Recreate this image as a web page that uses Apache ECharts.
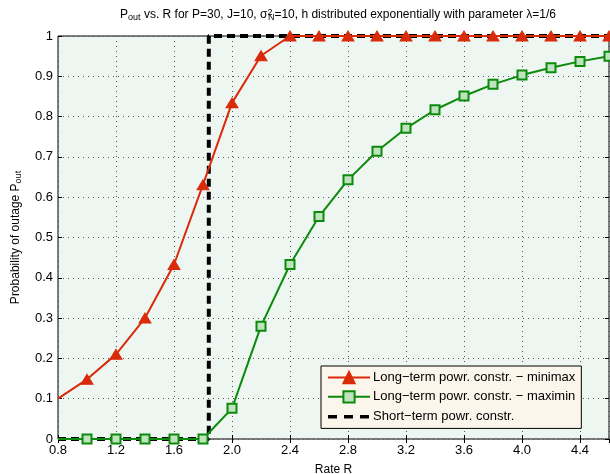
<!DOCTYPE html>
<html><head><meta charset="utf-8">
<script src="https://cdn.jsdelivr.net/npm/echarts@6/dist/echarts.min.js"></script>
<style>html,body{margin:0;padding:0;background:#fff}#c{width:610px;height:474px}</style>
</head><body><div id="c"></div>
<script>
const rates = [0.8, 1.0, 1.2, 1.4, 1.6, 1.8, 2.0, 2.2, 2.4, 2.6, 2.8, 3.0, 3.2, 3.4, 3.6, 3.8, 4.0, 4.2, 4.4, 4.6];
const minimax = [0.10, 0.148, 0.21, 0.30, 0.433, 0.631, 0.834, 0.951, 1, 1, 1, 1, 1, 1, 1, 1, 1, 1, 1, 1];
const maximin = [0, 0, 0, 0, 0, 0, 0.076, 0.28, 0.433, 0.552, 0.643, 0.714, 0.771, 0.817, 0.851, 0.880, 0.903, 0.921, 0.937, 0.950];
const shortX = [0.8, 1.84, 1.84, 4.6];
const shortY = [0, 0, 1, 1];
const seriesNames = ['Long\u2212term powr. constr. \u2212 minimax', 'Long\u2212term powr. constr. \u2212 maximin', 'Short\u2212term powr. constr.'];

const FONT = "'Liberation Sans', Arial, sans-serif";
const RED = '#d92b0a', GREEN = '#0c8a0c';

function pts(xs, ys, hideFirst) {
  return xs.map((x, i) => (hideFirst && i === 0) ? { value: [x, ys[i]], symbol: 'none' } : [x, ys[i]]);
}

const chart = echarts.init(document.getElementById('c'), null, { renderer: 'canvas' });
const axisCommon = {
  axisLine: { show: false },
  axisTick: { show: true, inside: true, length: 4, lineStyle: { color: '#000', width: 1 } },
};
const base = { fontFamily: FONT, color: '#000', fontWeight: 'normal', align: 'left' };
const dashIcon = 'path://M0,0h0.01v0.01h-0.01z M0,14h0.01v0.01h-0.01z M0,5.5h9v3.5h-9z M16,5.5h9v3.5h-9z M32,5.5h9v3.5h-9z M42,0h0.01v0.01h-0.01z';
chart.setOption({
  animation: false,
  backgroundColor: '#fff',
  textStyle: { fontFamily: FONT },
  title: {
    left: 333, top: 3, textAlign: 'center',
    text: '{n|P}{sub|out}{n| vs. R for P=30, J=10, \u03c3}{sup|2}{sub|N}{n|=10, h distributed exponentially with parameter \u03bb=1/6}',
    textStyle: {
      fontWeight: 'normal',
      rich: {
        n: Object.assign({ fontSize: 12 }, base),
        sub: Object.assign({ fontSize: 9, verticalAlign: 'bottom', padding: [6, 0, 0, 0], lineHeight: 14 }, base),
        sup: Object.assign({ fontSize: 9, verticalAlign: 'top', padding: [0, 0, 6, 0], lineHeight: 14, width: 0.5 }, base)
      }
    }
  },
  grid: { left: 58, top: 36, right: 1, bottom: 35, show: true, backgroundColor: '#eef6f1', borderColor: '#000', borderWidth: 1, containLabel: false, outerBoundsMode: 'none' },
  legend: {
    orient: 'vertical', left: 321, top: 366,
    itemWidth: 42, itemHeight: 14, itemGap: 6,
    padding: [5, 6, 5, 6],
    backgroundColor: '#fcf5ec', borderColor: '#000', borderWidth: 1,
    textStyle: { fontFamily: FONT, fontSize: 13, color: '#000', padding: [0, 0, 0, -2] },
    data: [seriesNames[0], seriesNames[1], { name: seriesNames[2], icon: dashIcon, itemStyle: { color: '#000' } }]
  },
  xAxis: [
    Object.assign({
      type: 'value', min: 0.8, max: 4.6, interval: 0.4,
      name: 'Rate R', nameLocation: 'middle', nameGap: 25,
      nameTextStyle: { fontFamily: FONT, fontSize: 12, color: '#000' },
      axisLabel: { fontFamily: FONT, fontSize: 13, color: '#000', margin: 5, showMaxLabel: false, formatter: v => v.toFixed(1) },
      splitLine: { show: true, lineStyle: { color: '#555', width: 1, type: [1, 4] } }
    }, axisCommon),
    Object.assign({
      type: 'value', min: 0.8, max: 4.6, interval: 0.4, position: 'top',
      axisLabel: { show: false }, splitLine: { show: false }
    }, axisCommon)
  ],
  yAxis: [
    Object.assign({
      type: 'value', min: 0, max: 1, interval: 0.1,
      name: '{n|Probability of outage P}{sub|out}', nameLocation: 'middle', nameGap: 35,
      nameTextStyle: {
        rich: {
          n: Object.assign({ fontSize: 12 }, base),
          sub: Object.assign({ fontSize: 9, verticalAlign: 'bottom', padding: [5, 0, 0, 0], lineHeight: 14 }, base)
        }
      },
      axisLabel: { fontFamily: FONT, fontSize: 13, color: '#000', margin: 5, formatter: v => (v === 0 ? '0' : (Math.abs(v - 1) < 1e-9 ? '1' : v.toFixed(1))) },
      splitLine: { show: true, lineStyle: { color: '#555', width: 1, type: [1, 4] } }
    }, axisCommon),
    Object.assign({
      type: 'value', min: 0, max: 1, interval: 0.1, position: 'right',
      axisLabel: { show: false }, splitLine: { show: false }
    }, axisCommon)
  ],
  series: [
    {
      name: seriesNames[0], type: 'line', z: 3,
      data: pts(rates, minimax, true),
      symbol: 'triangle', symbolSize: [12, 10],
      lineStyle: { color: RED, width: 2 },
      itemStyle: { color: RED, borderColor: RED, borderWidth: 1 }
    },
    {
      name: seriesNames[1], type: 'line', z: 3,
      data: pts(rates, maximin, true),
      symbol: 'rect', symbolSize: 9,
      lineStyle: { color: GREEN, width: 2 },
      itemStyle: { color: '#bfe2bf', borderColor: GREEN, borderWidth: 2 }
    },
    {
      name: seriesNames[2], type: 'line', z: 2,
      data: pts(shortX, shortY, false),
      symbol: 'none',
      lineStyle: { color: '#000', width: 4, type: [8, 5] },
      itemStyle: { color: '#000' }
    }
  ]
});
</script></body></html>
